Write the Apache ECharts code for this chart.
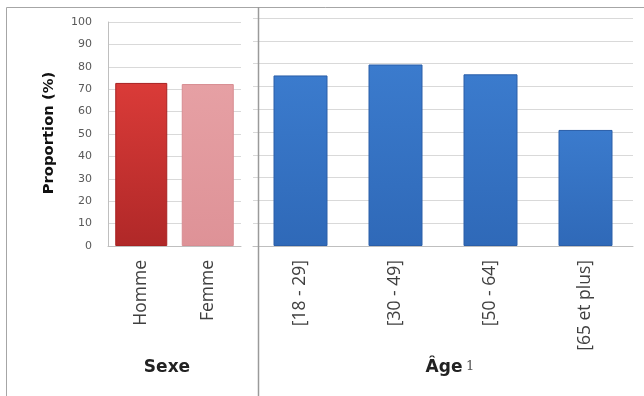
<!DOCTYPE html>
<html>
<head>
<meta charset="utf-8">
<script src="https://cdn.jsdelivr.net/npm/echarts@6/dist/echarts.min.js"></script>
<style>
html,body{margin:0;padding:0;background:#fff;}
#chart{width:644px;height:396px;}
</style>
</head>
<body>
<div id="chart"></div>
<script>
const sexCategories = ['Homme', 'Femme'];
const sexValues = [72.8, 72.3];
const ageCategories = ['[18 - 29]', '[30 - 49]', '[50 - 64]', '[65 et plus]'];
const ageValues = [74.8, 79.6, 75.3, 50.9];
const yMin = 0, yMax = 100, yStep = 10;
const yAxisTitle = 'Proportion (%)';
const sexTitle = 'Sexe';
const ageTitle = 'Âge';
const ageNote = '1';

const chart = echarts.init(document.getElementById('chart'), null, {renderer: 'canvas'});
const G = echarts.graphic;
const gridColor = '#d9d9d9';
const axisColor = '#bfbfbf';
const labelFont = {fontFamily: 'Open Sans', fontSize: 17.5, color: '#404040'};

const homme = new G.LinearGradient(0, 0, 0, 1, [{offset: 0, color: '#da3b38'}, {offset: 1, color: '#b02828'}]);
const femme = new G.LinearGradient(0, 0, 0, 1, [{offset: 0, color: '#e6a0a4'}, {offset: 1, color: '#de9297'}]);
const blue = new G.LinearGradient(0, 0, 0, 1, [{offset: 0, color: '#3b7bcd'}, {offset: 1, color: '#2f69b8'}]);

chart.setOption({
  animation: false,
  grid: [
    {left: 108, right: 403, top: 22, bottom: 150},
    {left: 253, right: 11, top: 18, bottom: 150}
  ],
  xAxis: [
    {type: 'category', gridIndex: 0, data: sexCategories,
     axisLine: {show: true, lineStyle: {color: axisColor}}, axisTick: {show: false},
     axisLabel: Object.assign({rotate: 90, margin: 14, interval: 0}, labelFont)},
    {type: 'category', gridIndex: 1, data: ageCategories,
     axisLine: {show: true, lineStyle: {color: axisColor}}, axisTick: {show: false},
     axisLabel: Object.assign({rotate: 90, margin: 14, interval: 0}, labelFont)}
  ],
  yAxis: [
    {type: 'value', gridIndex: 0, min: yMin, max: yMax, interval: yStep,
     axisLine: {show: true, lineStyle: {color: axisColor}}, axisTick: {show: false},
     axisLabel: {fontFamily: 'DejaVu Sans', fontSize: 11, color: '#595959', margin: 16},
     splitLine: {show: true, lineStyle: {color: gridColor}}},
    {type: 'value', gridIndex: 1, min: yMin, max: yMax, interval: yStep,
     axisLine: {show: false}, axisTick: {show: false}, axisLabel: {show: false},
     splitLine: {show: true, lineStyle: {color: gridColor}}}
  ],
  series: [
    {type: 'bar', xAxisIndex: 0, yAxisIndex: 0, barWidth: 52,
     data: sexValues.map((v, i) => ({value: v, itemStyle: i === 0
       ? {color: homme, borderColor: '#a82222', borderWidth: 1}
       : {color: femme, borderColor: '#d88c91', borderWidth: 1}}))},
    {type: 'bar', xAxisIndex: 1, yAxisIndex: 1, barWidth: 54,
     itemStyle: {color: blue, borderColor: '#2a5ea8', borderWidth: 1},
     data: ageValues}
  ],
  graphic: [
    {type: 'rect', shape: {x: 6.5, y: 7.5, width: 700, height: 500}, style: {fill: null, stroke: '#a6a6a6', lineWidth: 1}, z: 100, silent: true},
    {type: 'line', shape: {x1: 258.5, y1: 7, x2: 258.5, y2: 396}, style: {stroke: '#9a9a9a', lineWidth: 1.5}, z: 100, silent: true},
    {type: 'text', x: 49, y: 133, rotation: Math.PI / 2,
     style: {text: yAxisTitle, font: 'bold 14.8px "DejaVu Sans"', fill: '#111', textAlign: 'center', textVerticalAlign: 'middle'}},
    {type: 'text', x: 167, y: 368,
     style: {text: sexTitle, font: 'bold 17px "DejaVu Sans"', fill: '#222', textAlign: 'center', textVerticalAlign: 'middle'}},
    {type: 'text', x: 444, y: 368,
     style: {text: ageTitle, font: 'bold 17px "DejaVu Sans"', fill: '#222', textAlign: 'center', textVerticalAlign: 'middle'}},
    {type: 'text', x: 466, y: 367,
     style: {text: ageNote, font: '13px "DejaVu Serif"', fill: '#555', textAlign: 'left', textVerticalAlign: 'middle'}}
  ]
});
</script>
</body>
</html>
